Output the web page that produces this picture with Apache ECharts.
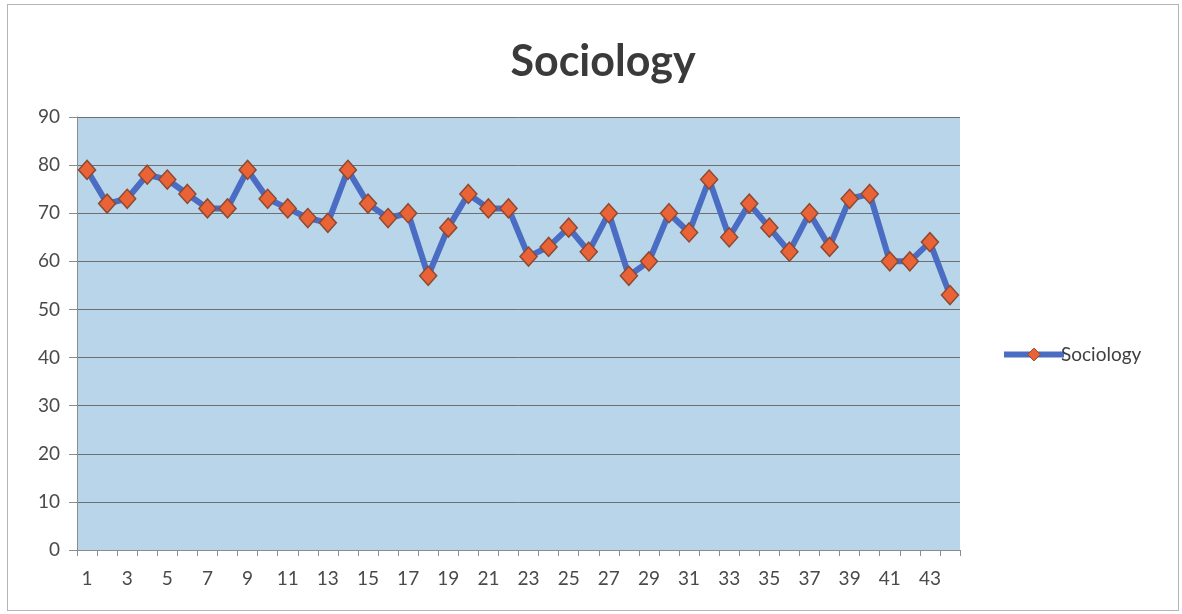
<!DOCTYPE html>
<html>
<head>
<meta charset="utf-8">
<script src="https://cdn.jsdelivr.net/npm/echarts@6/dist/echarts.min.js"></script>
<style>
html,body{margin:0;padding:0;background:#fff;}
#frame{position:absolute;left:7px;top:4px;width:1172px;height:607px;border:1px solid #b5b5b5;box-sizing:border-box;}
#chart{position:absolute;left:0;top:0;width:1182px;height:614px;}
</style>
</head>
<body>
<div id="frame"></div>
<div id="chart"></div>
<script>
const categories = ["1","2","3","4","5","6","7","8","9","10","11","12","13","14","15","16","17","18","19","20","21","22","23","24","25","26","27","28","29","30","31","32","33","34","35","36","37","38","39","40","41","42","43","44"];
const sociology = [79,72,73,78,77,74,71,71,79,73,71,69,68,79,72,69,70,57,67,74,71,71,61,63,67,62,70,57,60,70,66,77,65,72,67,62,70,63,73,74,60,60,64,53];
const yTicks = {min:0, max:90, interval:10};

const chart = echarts.init(document.getElementById('chart'), null, {renderer:'canvas'});
chart.setOption({
  animation:false,
  backgroundColor:'transparent',
  title:{
    text:'Sociology', left:598, top:36, textAlign:'center',
    textStyle:{fontFamily:'Lato', fontWeight:'bold', fontSize:43, color:'#3a3a3a'}
  },
  legend:{
    data:['Sociology'], left:996, top:340, itemWidth:60, itemHeight:16, itemGap:0,
    lineStyle:{width:6, color:'#4a6cc2'},
    itemStyle:{color:'#ea6337', borderColor:'#8b4a33', borderWidth:1},
    textStyle:{fontFamily:'Lato', fontSize:19, color:'#404040', padding:[0,0,0,-8]}
  },
  grid:{left:77, right:222, top:117, bottom:64, show:true, backgroundColor:'#b9d5ea', borderWidth:0},
  xAxis:{
    type:'category', data:categories, boundaryGap:true,
    axisLine:{lineStyle:{color:'#8c8c8c', width:1}},
    axisTick:{show:true, interval:0, length:6, lineStyle:{color:'#8c8c8c'}},
    axisLabel:{interval:1, margin:19, fontFamily:'Lato', fontSize:19, color:'#4a4a4a'}
  },
  yAxis:{
    type:'value', min:yTicks.min, max:yTicks.max, interval:yTicks.interval,
    axisLine:{show:true, lineStyle:{color:'#8c8c8c', width:1}},
    axisTick:{show:true, length:8, lineStyle:{color:'#8c8c8c'}},
    axisLabel:{margin:17, fontFamily:'Lato', fontSize:19, color:'#4a4a4a'},
    splitLine:{show:true, lineStyle:{color:'#6d6f72', width:1}}
  },
  series:[{
    name:'Sociology', type:'line', data:sociology,
    showAllSymbol:true,
    symbol:'diamond', symbolSize:[17,19],
    lineStyle:{color:'#4a6cc2', width:6},
    itemStyle:{color:'#ea6337', borderColor:'#8b4a33', borderWidth:1.5},
    z:3
  }]
});
</script>
</body>
</html>
